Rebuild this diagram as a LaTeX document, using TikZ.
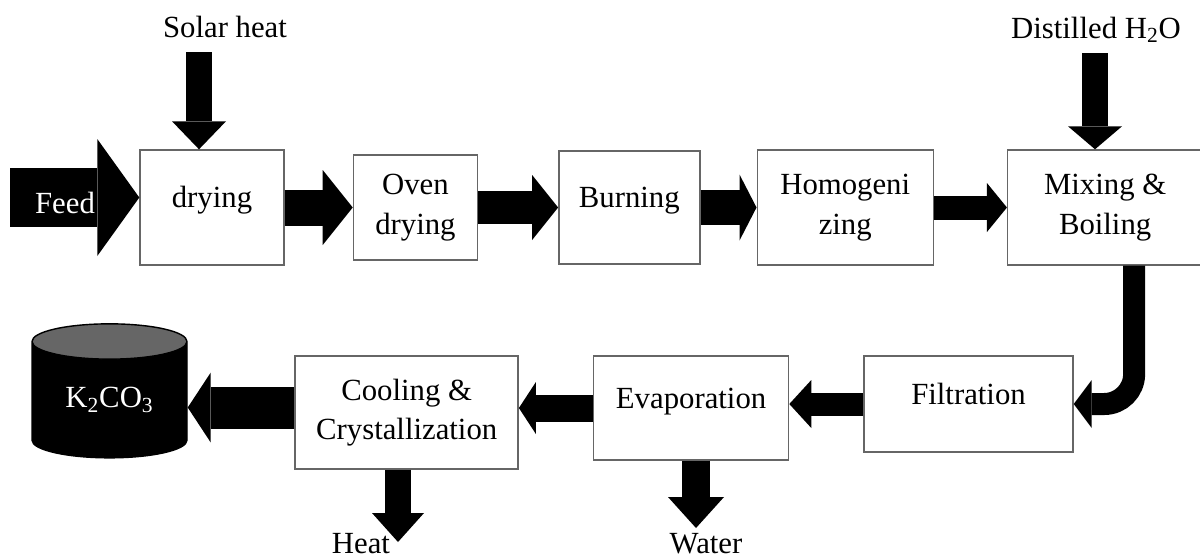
\documentclass[tikz,border=0pt]{standalone}
\usepackage{fontspec}
\setmainfont{Liberation Serif}
\usetikzlibrary{arrows.meta,positioning,shapes.geometric}

\begin{document}
\begin{tikzpicture}[font=\fontsize{17.5}{22.5}\selectfont,
    main node/.style={draw=black!60,line width=0.8pt,fill=white,align=center,inner sep=0pt},
    one line/.style={text height=0.42cm,text depth=0.42cm},
    store/.style={cylinder,shape border rotate=90,aspect=0.4,draw=black,line width=0.8pt,
                  cylinder uses custom fill,cylinder body fill=black,cylinder end fill=black!60,
                  text=white,inner sep=0pt},
    flow/.style n args={3}{line width=#1,-{Triangle[width=#2,length=#3,line width=0pt]}}]

  \useasboundingbox (0,0) rectangle (24,-11.16);

  % top row
  \node[main node,one line,minimum width=2.88cm,minimum height=2.3cm] (drying) at (4.24,-4.15) {drying};
  \node[main node,minimum width=2.48cm,minimum height=2.1cm] (oven) [right=1.36cm of drying] {Oven\\drying};
  \node[main node,one line,minimum width=2.82cm,minimum height=2.26cm] (burning) [right=1.6cm of oven] {Burning};
  \node[main node,minimum width=3.52cm,minimum height=2.3cm] (homog) [right=1.12cm of burning] {Homogeni\\zing};
  \node[main node,minimum width=3.9cm,minimum height=2.3cm] (mixing) [right=1.46cm of homog] {Mixing \&\\Boiling};

  % bottom row
  \node[main node,one line,minimum width=4.18cm,minimum height=1.92cm] (filtration) at (19.37,-8.08) {Filtration};
  \node[main node,one line,minimum width=3.9cm,minimum height=2.08cm] (evaporation)
    [left=1.48cm of filtration.north west,anchor=north east] {Evaporation};
  \node[main node,minimum width=4.46cm,minimum height=2.26cm] (cooling)
    [left=1.48cm of evaporation.north west,anchor=north east] {Cooling \&\\Crystallization};
  \node[store,minimum width=3.1cm,minimum height=2.68cm] (tank) at (2.19,-8.0) {K\textsubscript{2}CO\textsubscript{3}};

  % inputs and outputs
  \node (solar) [anchor=base] at (4.5,-0.74) {Solar heat};
  \node (distilled) [anchor=base] at (21.92,-0.76) {Distilled H\textsubscript{2}O};
  \node (heat) [anchor=base] at (7.22,-11.06) {Heat};
  \node (water) [anchor=base] at (14.12,-11.06) {Water};
  \coordinate (sun) at (3.98,-1.04);
  \coordinate (tap) at (21.9,-1.06);
  \coordinate (feedin) at (0.2,-3.95);
  \coordinate (heatout) at (7.96,-10.84);
  \coordinate (waterout) at (13.92,-10.56);

  \draw[flow={1.18cm}{2.34cm}{0.84cm}] (feedin) -- (feedin -| drying.west);
  \node[text=white,anchor=base] (feed) at (1.3,-4.26) {Feed};
  \draw[flow={0.52cm}{1.08cm}{0.56cm}] (sun) -- (sun |- drying.north);
  \draw[flow={0.72cm}{1.5cm}{0.6cm}] (drying) -- (oven);
  \draw[flow={0.66cm}{1.3cm}{0.52cm}] (oven) -- (burning);
  \draw[flow={0.7cm}{1.32cm}{0.34cm}] (burning) -- (homog);
  \draw[flow={0.48cm}{0.98cm}{0.4cm}] (homog) -- (mixing);
  \draw[flow={0.52cm}{1.08cm}{0.46cm}] (tap) -- (tap |- mixing.north);
  \draw[flow={0.44cm}{0.96cm}{0.36cm},rounded corners=0.6cm] ([xshift=0.58cm]mixing.south) |- (filtration.east);
  \draw[flow={0.46cm}{0.96cm}{0.44cm}] (filtration.west) -- (filtration.west -| evaporation.east);
  \draw[flow={0.54cm}{1.04cm}{0.34cm}] (evaporation.west) -- (evaporation.west -| cooling.east);
  \draw[flow={0.84cm}{1.4cm}{0.46cm}] ([yshift=0.1cm]cooling.west) -- ([yshift=0.1cm]cooling.west -| tank.east);
  \draw[flow={0.52cm}{1.04cm}{0.58cm}] (heatout |- cooling.south) -- (heatout);
  \draw[flow={0.56cm}{1.12cm}{0.62cm}] (waterout |- evaporation.south) -- (waterout);
\end{tikzpicture}
\end{document}
